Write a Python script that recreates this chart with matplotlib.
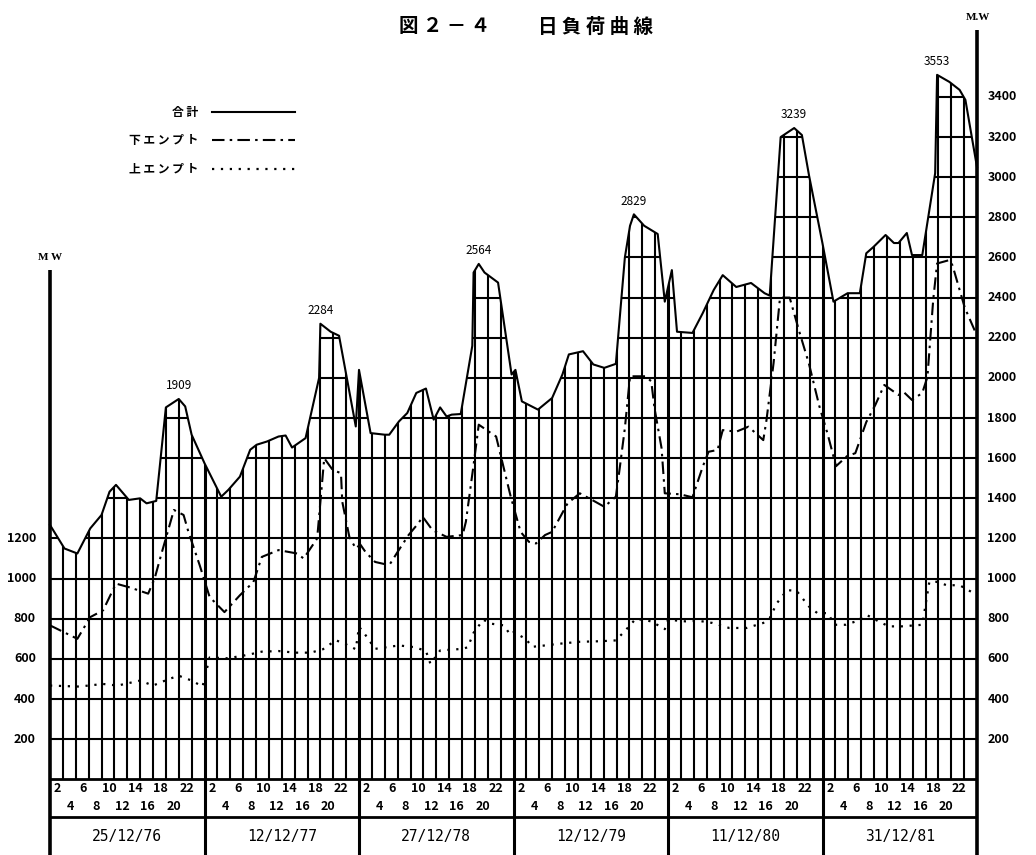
import numpy as np
import matplotlib
matplotlib.use("Agg")
import matplotlib.pyplot as plt
from matplotlib.patches import Polygon

# daily load curves, x = hours counted from 0:00 of the first day (6 days x 24 h)
days = ["25/12/76", "12/12/77", "27/12/78", "12/12/79", "11/12/80", "31/12/81"]
peaks = [1909, 2284, 2564, 2829, 3239, 3553]

# 合計 (total)
tot_h = [0, 2.25, 4.25, 6.25, 8, 9.25, 10.25, 12.25, 14, 15, 16.5, 18, 20, 21, 22, 24,
         26.6, 27.7, 29.5, 31.1, 32.1, 33.7, 35.5, 36.6, 37.6, 39.7, 41.8, 42.0, 43.6, 44.9, 47.5,
         48, 49.8, 52, 52.7, 54.2, 55.5, 56.9, 58.4, 59.6, 60.6, 61.6, 62.4, 63.8, 65.6, 65.8, 66.6, 67.5, 69.6, 71.7,
         72.3, 73.3, 75.8, 78, 79.6, 80.6, 82.8, 84.4, 86.1, 87.9, 89.3, 90.1, 90.7, 92.3, 94.4, 95.5,
         96.6, 97.4, 99.8, 101.4, 103.1, 104.5, 106.6, 108.9, 111, 111.8, 113.5, 115.6, 116.8, 117.9, 120,
         121.7, 123.9, 125.8, 126.8, 127.9, 129.8, 131.1, 131.8, 133.1, 133.9, 135.5, 137.5, 137.8, 139.7, 141.3, 142.2, 144]
tot_mw = [1267, 1150, 1125, 1250, 1317, 1433, 1467, 1392, 1400, 1375, 1387, 1853, 1895, 1858, 1717, 1575,
          1408, 1442, 1508, 1642, 1667, 1683, 1708, 1713, 1653, 1700, 2000, 2270, 2230, 2210, 1758,
          2040, 1725, 1717, 1717, 1783, 1825, 1925, 1947, 1792, 1853, 1808, 1817, 1820, 2160, 2525, 2568, 2525, 2475, 2017,
          2040, 1883, 1842, 1900, 2017, 2117, 2133, 2067, 2050, 2070, 2600, 2758, 2815, 2758, 2717, 2380,
          2537, 2230, 2224, 2323, 2438, 2512, 2453, 2473, 2422, 2410, 3200, 3245, 3210, 3010, 2670,
          2380, 2422, 2422, 2621, 2652, 2712, 2672, 2672, 2722, 2612, 2612, 3020, 3510, 3475, 3435, 3385, 3050]

# 下エンプト
low_h = [0, 4.25, 6.25, 8.25, 10.25, 12.5, 15.25, 16.25, 17.25, 19.25, 20.75, 21.5, 23.25,
         24.8, 27.1, 29.5, 31.6, 32.9, 35.5, 38.4, 39.4, 41.5, 42.6, 43.9, 45.2, 45.4, 46.5, 47.5,
         48.2, 49, 50.5, 52.7, 54, 55.7, 57.2, 57.9, 59.4, 61.6, 64.1, 64.6, 65.8, 66.6, 68.5, 69.3, 71.5,
         73.1, 74.4, 75.5, 76.9, 78, 80.4, 82.3, 84.2, 86.1, 87.9, 88.5, 89.3, 90.1, 92.5, 93.4, 93.9, 95, 95.5,
         97.9, 99.8, 101.4, 102.3, 103.7, 104.5, 106.6, 108.5, 110.8, 111.3, 112.4, 113.4, 114.9, 116.4, 117.9, 119.5,
         120.8, 122.1, 123.8, 125.1, 126.8, 128.2, 129.6, 131.8, 132.6, 133.9, 135.5, 136.3, 137.2, 137.8, 139.7, 140.2, 142.1, 144]
low_mw = [767, 700, 808, 842, 975, 955, 925, 1000, 1117, 1342, 1317, 1233, 1067,
          908, 833, 917, 983, 1108, 1142, 1125, 1100, 1200, 1600, 1542, 1525, 1383, 1208, 1150,
          1170, 1133, 1083, 1067, 1133, 1217, 1275, 1308, 1242, 1208, 1217, 1283, 1567, 1767, 1725, 1708, 1417,
          1233, 1183, 1175, 1217, 1233, 1375, 1425, 1392, 1358, 1408, 1550, 1750, 2008, 2008, 1983, 1850, 1650, 1425,
          1420, 1405, 1558, 1632, 1641, 1740, 1732, 1757, 1690, 1790, 2074, 2400, 2400, 2230, 2070, 1860,
          1720, 1560, 1610, 1625, 1780, 1865, 1965, 1915, 1930, 1890, 1925, 2005, 2390, 2570, 2587, 2560, 2350, 2210]

# 上エンプト
up_h = [0, 4.5, 8.25, 10.5, 14, 16, 18.5, 20, 22, 23.7,
        24.8, 27.6, 30.7, 32.9, 35.5, 38.1, 40.5, 42.4, 44.4, 46, 47.5,
        48, 48.7, 50.5, 54.2, 56.7, 58.4, 59.1, 60.6, 64.1, 64.9, 65.8, 67.3, 68.6, 70.5, 71.5,
        72, 73.9, 74.9, 76.9, 79, 82.2, 85.5, 87.9, 89.5, 91, 93.4, 95.5,
        96, 98.7, 100.7, 102.9, 105.5, 108.2, 110.8, 111.8, 112.9, 114.5, 116, 117.9, 119.2,
        120.8, 121.9, 123.6, 125.2, 126.8, 128.7, 130.3, 132.3, 135.5, 136.6, 137.7, 139.3, 141.3, 144]
up_mw = [467, 462, 475, 467, 492, 467, 500, 516, 492, 462,
         607, 603, 620, 636, 639, 631, 631, 648, 693, 672, 648,
         760, 733, 650, 667, 658, 639, 575, 642, 650, 658, 730, 795, 775, 767, 720,
         733, 700, 660, 667, 675, 685, 688, 692, 746, 800, 787, 748,
         795, 787, 790, 779, 754, 754, 779, 803, 877, 943, 938, 861, 828,
         828, 770, 770, 787, 820, 787, 762, 762, 770, 984, 984, 967, 967, 918]

# page geometry: pixels of the scanned figure
W, H = 1036, 855
X0, PX_PER_H = 50, 927 / 144
Y0, PX_PER_MW = 779.3, 0.2007

plt.rcParams['font.family'] = ['Liberation Sans Narrow', 'Noto Sans CJK JP', 'DejaVu Sans']
cjk = ['Noto Sans CJK JP', 'DejaVu Sans']

fig = plt.figure(figsize=(W / 100, H / 100), dpi=100)
ax = fig.add_axes([0, 0, 1, 1])
ax.set_xlim(-X0 / PX_PER_H, (W - X0) / PX_PER_H)
ax.set_ylim((Y0 - H) / PX_PER_MW, Y0 / PX_PER_MW)
ax.axis('off')
ybot = (Y0 - H) / PX_PER_MW

# grid only inside the area under the total curve
verts = [(0, 0)] + list(zip(tot_h, tot_mw)) + [(144, 0)]
clip = Polygon(verts, closed=True, facecolor='none', edgecolor='none')
ax.add_patch(clip)

hour_lines = [h for h in range(2, 144, 2) if h % 24]
vl = ax.vlines(hour_lines, 0, 3700, color='black', lw=1.5)
vl.set_clip_path(clip)
hl = ax.hlines(np.arange(200, 3600, 200), 0, 144, color='black', lw=1.5)
hl.set_clip_path(clip)
bl = ax.vlines([24, 48, 72, 96, 120], 0, 3700, color='black', lw=2.2)
bl.set_clip_path(clip)
ax.vlines([24, 48, 72, 96, 120], ybot, 0, color='black', lw=2.2)

# axes frame
ax.vlines(0, ybot, (Y0 - 270) / PX_PER_MW, color='black', lw=2.6)
ax.vlines(144, ybot, (Y0 - 30) / PX_PER_MW, color='black', lw=2.6)
ax.hlines(0, 0, 144, color='black', lw=2)
ax.hlines((Y0 - 817) / PX_PER_MW, 0, 144, color='black', lw=2)

l1, = ax.plot(tot_h, tot_mw, color='black', lw=1.5)
l2, = ax.plot(low_h, low_mw, color='black', lw=1.5, ls=(0, (6, 2.5, 1.2, 2.5)))
l3, = ax.plot(up_h, up_mw, color='black', lw=1.6, ls=(0, (1, 3)))

# peak values
for d in range(6):
    i = [k for k, h in enumerate(tot_h) if 24 * d <= h <= 24 * d + 24]
    k = max(i, key=lambda j: tot_mw[j])
    ax.text(tot_h[k], tot_mw[k] + 65, str(peaks[d]), ha='center', va='center', fontsize=8.5)

# value labels
for v in range(200, 1400, 200):
    ax.text(-2.2, v, str(v), ha='right', va='center', fontsize=9, weight='bold')
for v in range(200, 3600, 200):
    ax.text(145.6, v, str(v), ha='left', va='center', fontsize=9, weight='bold')

# hour and date rows
for d in range(6):
    for h in [2, 6, 10, 14, 18, 22]:
        ax.text(24 * d + h - 0.8, (Y0 - 788) / PX_PER_MW, str(h), ha='center', va='center',
                fontsize=9, weight='bold')
    for h in [4, 8, 12, 16, 20]:
        ax.text(24 * d + h - 0.8, (Y0 - 806) / PX_PER_MW, str(h), ha='center', va='center',
                fontsize=9, weight='bold')
    ax.text(24 * d + 12, (Y0 - 836) / PX_PER_MW, days[d], ha='center', va='center',
            fontsize=10.5, family='DejaVu Sans Mono')

fig.text(50 / W, 1 - 257 / H, "M W", ha='center', va='center', fontsize=8,
         family='Liberation Serif', weight='bold')
fig.text(978 / W, 1 - 17 / H, "M.W", ha='center', va='center', fontsize=8,
         family='Liberation Serif', weight='bold')

fig.text(445 / W, 1 - 27 / H, "図 ２ － ４", ha='center', va='center', fontsize=14,
         family=cjk, weight='bold')
fig.text(596 / W, 1 - 27 / H, "日 負 荷 曲 線", ha='center', va='center', fontsize=14,
         family=cjk, weight='bold')

ax.legend([l1, l2, l3], ["合 計", "下 エ ン プ ト", "上 エ ン プ ト"], markerfirst=False,
          frameon=False, loc='upper right', bbox_to_anchor=(295 / W, 1 - 106 / H),
          bbox_transform=fig.transFigure, borderaxespad=0, borderpad=0,
          handlelength=7.0, handletextpad=1.2, labelspacing=1.3,
          prop={'family': cjk, 'size': 8.5, 'weight': 'bold'})

fig.savefig("out.png", dpi=100)
